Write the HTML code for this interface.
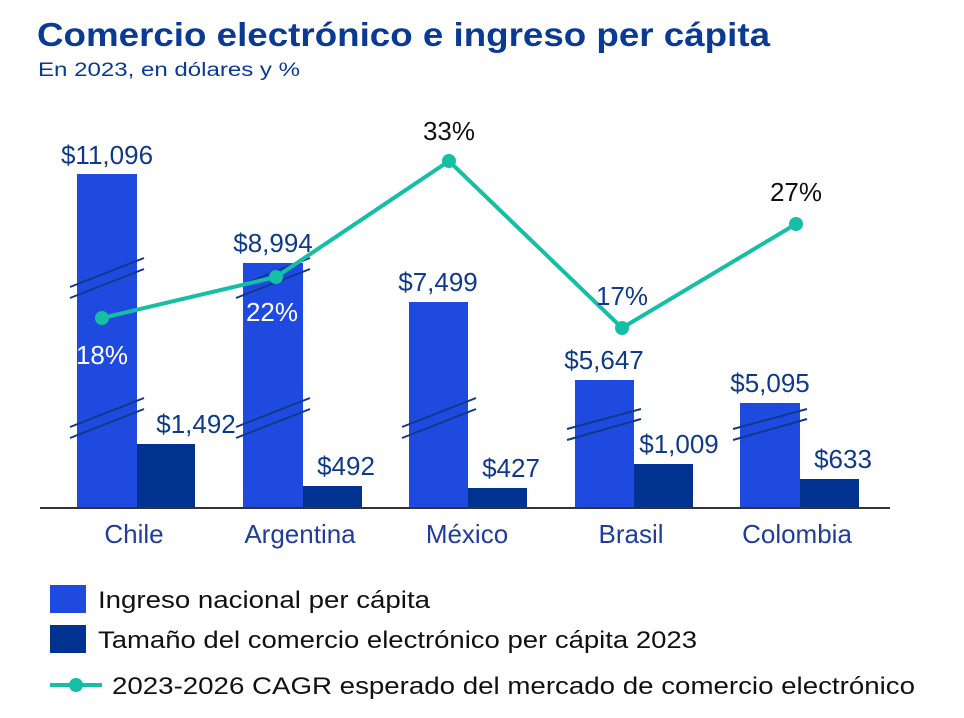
<!DOCTYPE html>
<html><head><meta charset="utf-8"><style>
body{margin:0;background:#fff;}
svg{display:block;font-family:"Liberation Sans",sans-serif;}
</style></head><body>
<svg width="964" height="718" viewBox="0 0 964 718">
<text x="37" y="46" font-size="33" font-weight="bold" fill="#0a3a94" textLength="733" lengthAdjust="spacingAndGlyphs">Comercio electrónico e ingreso per cápita</text>
<text x="38" y="76" font-size="19" fill="#0a3a94" textLength="262" lengthAdjust="spacingAndGlyphs">En 2023, en dólares y %</text>
<g fill="#1f4ae0">
<rect x="77" y="174" width="60" height="334"/>
<rect x="243" y="263" width="60" height="245"/>
<rect x="409" y="302" width="59" height="206"/>
<rect x="575" y="380" width="59" height="128"/>
<rect x="740" y="403" width="60" height="105"/>
</g>
<g fill="#00338f">
<rect x="137" y="444" width="58" height="64"/>
<rect x="303" y="486" width="59" height="22"/>
<rect x="468" y="488" width="59" height="20"/>
<rect x="634" y="464" width="59" height="44"/>
<rect x="800" y="479" width="59" height="29"/>
</g>
<line x1="40" y1="508" x2="890" y2="508" stroke="#333" stroke-width="2"/>
<g stroke="#0f3a8a" stroke-width="2">
<line x1="70" y1="287" x2="144" y2="258"/><line x1="70" y1="298" x2="144" y2="269"/>
<line x1="70" y1="427" x2="144" y2="398"/><line x1="70" y1="438" x2="144" y2="409"/>
<line x1="236" y1="287" x2="310" y2="258"/><line x1="236" y1="298" x2="310" y2="269"/>
<line x1="236" y1="427" x2="310" y2="398"/><line x1="236" y1="438" x2="310" y2="409"/>
<line x1="402" y1="427" x2="476" y2="398"/><line x1="402" y1="438" x2="476" y2="409"/>
<line x1="567" y1="429" x2="641" y2="409"/><line x1="567" y1="440" x2="641" y2="419"/>
<line x1="733" y1="429" x2="807" y2="409"/><line x1="733" y1="440" x2="807" y2="419"/>
</g>
<g font-size="26" fill="#0f3a8a" text-anchor="middle">
<text x="107" y="164">$11,096</text>
<text x="273" y="252">$8,994</text>
<text x="438" y="291">$7,499</text>
<text x="604" y="369">$5,647</text>
<text x="770" y="392">$5,095</text>
<text x="196" y="433">$1,492</text>
<text x="346" y="475">$492</text>
<text x="511" y="477">$427</text>
<text x="679" y="453">$1,009</text>
<text x="843" y="468">$633</text>
</g>
<polyline points="102,318 276,277 449,161 622,328 796,224" fill="none" stroke="#14bfa4" stroke-width="4"/>
<g fill="#14bfa4">
<circle cx="102" cy="318" r="7"/><circle cx="276" cy="277" r="7"/><circle cx="449" cy="161" r="7"/><circle cx="622" cy="328" r="7"/><circle cx="796" cy="224" r="7"/>
</g>
<g font-size="26" text-anchor="middle">
<text x="102" y="364" fill="#fff">18%</text>
<text x="272" y="321" fill="#fff">22%</text>
<text x="449" y="140" fill="#111">33%</text>
<text x="622" y="305" fill="#0f3a8a">17%</text>
<text x="796" y="201" fill="#111">27%</text>
</g>
<g font-size="26" fill="#1f3d99" text-anchor="middle">
<text x="134" y="543">Chile</text>
<text x="300" y="543">Argentina</text>
<text x="467" y="543">México</text>
<text x="631" y="543">Brasil</text>
<text x="797" y="543">Colombia</text>
</g>
<rect x="50" y="585" width="36" height="28" fill="#1f4ae0"/>
<rect x="50" y="625" width="36" height="28" fill="#00338f"/>
<line x1="50" y1="685" x2="102" y2="685" stroke="#14bfa4" stroke-width="4"/>
<circle cx="76" cy="685" r="7" fill="#14bfa4"/>
<g font-size="24" fill="#111">
<text x="98" y="608" textLength="332" lengthAdjust="spacingAndGlyphs">Ingreso nacional per cápita</text>
<text x="98" y="648" textLength="599" lengthAdjust="spacingAndGlyphs">Tamaño del comercio electrónico per cápita 2023</text>
<text x="112" y="694" textLength="803" lengthAdjust="spacingAndGlyphs">2023-2026 CAGR esperado del mercado de comercio electrónico</text>
</g>
</svg>
</body></html>
